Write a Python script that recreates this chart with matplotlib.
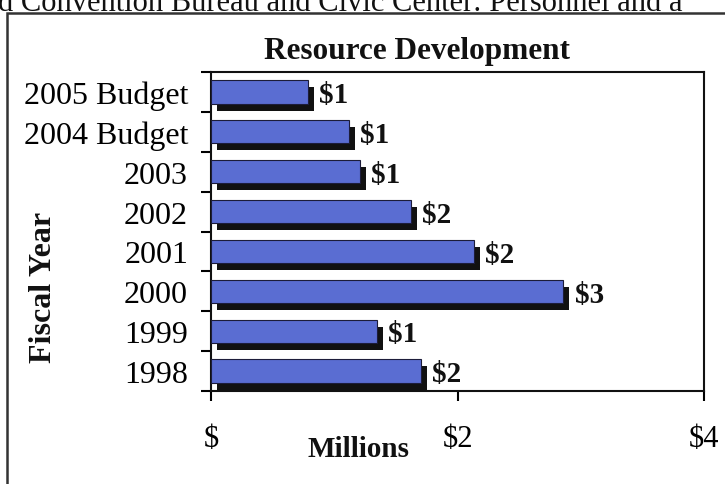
import matplotlib
matplotlib.use("Agg")
import matplotlib.pyplot as plt
import matplotlib.transforms as mtransforms
from matplotlib.patches import Rectangle

plt.rcParams['font.family'] = ['Liberation Serif', 'DejaVu Serif']

# Resource Development spending by fiscal year, in millions of dollars
years = ['1998', '1999', '2000', '2001', '2002', '2003', '2004 Budget', '2005 Budget']
values = [1.70, 1.35, 2.86, 2.13, 1.62, 1.21, 1.12, 0.79]
x_ticks = [0, 2, 4]
x_tick_labels = ['$', '$2', '$4']

W, H = 725, 485
fig = plt.figure(figsize=(W / 100, H / 100), dpi=100)
fig.patch.set_facecolor('white')

# outer chart frame (runs off the right and bottom edges)
fig.patches.append(Rectangle((7 / W, -0.1), 1.2, 1 - 14 / H + 0.1,
                             transform=fig.transFigure, fill=False,
                             edgecolor='#333333', linewidth=1.8, zorder=0))

# running page heading above the chart, partly cut off
fig.text(-2 / W, 1 - 11 / H, 'd Convention Bureau and Civic Center: Personnel and a',
         fontsize=22, ha='left', va='baseline', color='#111111')

ax = fig.add_axes([211 / W, 93 / H, 493 / W, 319 / H])
ypos = list(range(len(years)))

shadow = ax.transData + mtransforms.ScaledTranslation(6 / 100, -7 / 100, fig.dpi_scale_trans)
ax.barh(ypos, values, height=0.58, color='#111111', transform=shadow, zorder=2)
ax.barh(ypos, values, height=0.58, color='#5A6DD2', edgecolor='#1c1c3a',
        linewidth=0.8, zorder=3)

for y, v in zip(ypos, values):
    ax.annotate(f'${round(v)}', xy=(v, y), xytext=(8, -2), textcoords='offset points',
                ha='left', va='center', fontsize=21, fontweight='bold', color='#111111')

ax.set_xlim(0, 4)
ax.set_ylim(-0.5, len(years) - 0.5)

ax.set_yticks(ypos)
ax.set_yticklabels(years, fontsize=23)
ax.set_yticks([i - 0.5 for i in range(len(years) + 1)], minor=True)
ax.tick_params(axis='y', which='major', length=0, pad=16.5)
ax.tick_params(axis='y', which='minor', length=7, width=1.5, direction='out')

ax.set_xticks(x_ticks)
ax.set_xticklabels(x_tick_labels, fontsize=22)
ax.tick_params(axis='x', which='major', length=7, width=1.5, direction='out', pad=17)

for s in ax.spines.values():
    s.set_linewidth(1.5)
    s.set_color('#111111')

fig.text(417 / W, 1 - 51 / H, 'Resource Development', fontsize=22.5, fontweight='bold',
         ha='center', va='center', color='#111111')
fig.text(358 / W, 1 - 450 / H, 'Millions', fontsize=21, fontweight='bold',
         ha='center', va='center', color='#111111')
fig.text(44 / W, 1 - 287 / H, 'Fiscal Year', fontsize=23, fontweight='bold',
         ha='center', va='center', rotation=90, color='#111111')

fig.savefig('out.png', dpi=100)
